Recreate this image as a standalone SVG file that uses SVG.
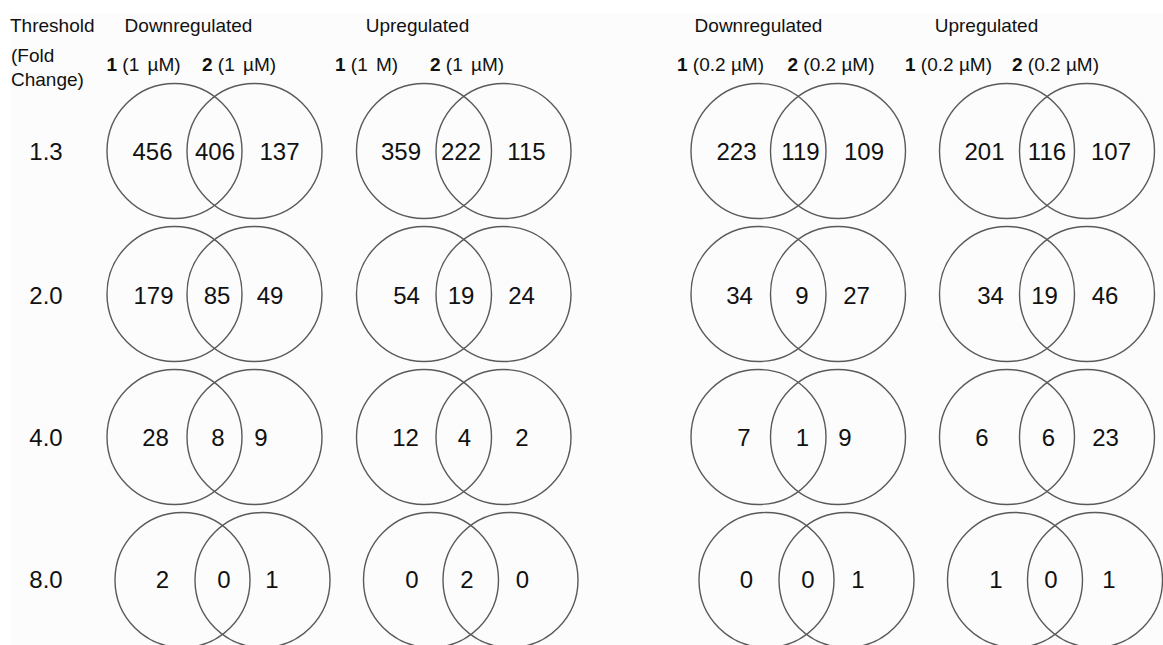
<svg xmlns="http://www.w3.org/2000/svg" width="1163" height="645" viewBox="0 0 1163 645">
<style>
.c{fill:none;stroke:#5a5a5a;stroke-width:1.4}
text{font-family:"Liberation Sans",Arial,sans-serif;fill:#111}
.n{font-size:24px;text-anchor:middle}
.h{font-size:19px}
.hm{font-size:19px;text-anchor:middle}
.b{font-weight:bold}
</style>
<rect x="0" y="0" width="1163" height="645" fill="#ffffff"/>
<rect x="10" y="13" width="1153" height="632" fill="#fcfcfc"/>
<g id="headers">
<text class="h" x="10" y="32">Threshold</text>
<text class="h" x="11" y="62">(Fold</text>
<text class="h" x="11" y="86">Change)</text>
<text class="hm" x="188.5" y="32">Downregulated</text>
<text class="hm" x="417.5" y="32">Upregulated</text>
<text class="hm" x="758.5" y="32">Downregulated</text>
<text class="hm" x="986.5" y="32">Upregulated</text>
<text class="h" x="106.5" y="71"><tspan class="b">1</tspan> (1 <tspan dx="3">µM)</tspan></text>
<text class="h" x="202" y="71"><tspan class="b">2</tspan> (1 <tspan dx="3">µM)</tspan></text>
<text class="h" x="335" y="71"><tspan class="b">1</tspan> (1 <tspan dx="3">M)</tspan></text>
<text class="h" x="430" y="71"><tspan class="b">2</tspan> (1 <tspan dx="3">µM)</tspan></text>
<text class="h" x="677" y="71"><tspan class="b">1</tspan> (0.2 µM)</text>
<text class="h" x="787.5" y="71"><tspan class="b">2</tspan> (0.2 µM)</text>
<text class="h" x="905" y="71"><tspan class="b">1</tspan> (0.2 µM)</text>
<text class="h" x="1012" y="71"><tspan class="b">2</tspan> (0.2 µM)</text>
</g>
<g id="thresholds">
<text class="n" x="46" y="160">1.3</text>
<text class="n" x="46" y="304">2.0</text>
<text class="n" x="46" y="446">4.0</text>
<text class="n" x="46" y="588">8.0</text>
</g>
<g id="down-1uM">
<g id="d1-r1"><circle class="c" cx="174.5" cy="151" r="67.5"/><circle class="c" cx="254.5" cy="151" r="67.5"/>
<text class="n" x="152.5" y="160">456</text><text class="n" x="215" y="160">406</text><text class="n" x="279.5" y="160">137</text></g>
<g id="d1-r2"><circle class="c" cx="174.5" cy="294" r="67.5"/><circle class="c" cx="254.5" cy="294" r="67.5"/>
<text class="n" x="153.5" y="303.5">179</text><text class="n" x="217" y="303.5">85</text><text class="n" x="270" y="303.5">49</text></g>
<g id="d1-r3"><circle class="c" cx="174.5" cy="437" r="67.5"/><circle class="c" cx="254.5" cy="437" r="67.5"/>
<text class="n" x="155.5" y="446">28</text><text class="n" x="218" y="446">8</text><text class="n" x="261" y="446">9</text></g>
<g id="d1-r4"><circle class="c" cx="182.5" cy="580" r="67.5"/><circle class="c" cx="262.5" cy="580" r="67.5"/>
<text class="n" x="162.5" y="588">2</text><text class="n" x="224" y="588">0</text><text class="n" x="272" y="588">1</text></g>
</g>
<g id="up-1uM">
<g id="u1-r1"><circle class="c" cx="424" cy="151" r="67.5"/><circle class="c" cx="503.5" cy="151" r="67.5"/>
<text class="n" x="401" y="160">359</text><text class="n" x="461" y="160">222</text><text class="n" x="526.5" y="160">115</text></g>
<g id="u1-r2"><circle class="c" cx="424" cy="294" r="67.5"/><circle class="c" cx="503.5" cy="294" r="67.5"/>
<text class="n" x="406.5" y="303.5">54</text><text class="n" x="461" y="303.5">19</text><text class="n" x="521.5" y="303.5">24</text></g>
<g id="u1-r3"><circle class="c" cx="424" cy="437" r="67.5"/><circle class="c" cx="503.5" cy="437" r="67.5"/>
<text class="n" x="405.5" y="446">12</text><text class="n" x="464.5" y="446">4</text><text class="n" x="522" y="446">2</text></g>
<g id="u1-r4"><circle class="c" cx="431" cy="580" r="67.5"/><circle class="c" cx="510.5" cy="580" r="67.5"/>
<text class="n" x="412" y="588">0</text><text class="n" x="467" y="588">2</text><text class="n" x="522.5" y="588">0</text></g>
</g>
<g id="down-02uM">
<g id="d2-r1"><circle class="c" cx="758.5" cy="151" r="67.5"/><circle class="c" cx="838" cy="151" r="67.5"/>
<text class="n" x="736.5" y="160">223</text><text class="n" x="800.5" y="160">119</text><text class="n" x="864" y="160">109</text></g>
<g id="d2-r2"><circle class="c" cx="758.5" cy="294" r="67.5"/><circle class="c" cx="838" cy="294" r="67.5"/>
<text class="n" x="739.5" y="303.5">34</text><text class="n" x="802" y="303.5">9</text><text class="n" x="856.5" y="303.5">27</text></g>
<g id="d2-r3"><circle class="c" cx="758.5" cy="437" r="67.5"/><circle class="c" cx="838" cy="437" r="67.5"/>
<text class="n" x="744" y="446">7</text><text class="n" x="802.5" y="446">1</text><text class="n" x="845" y="446">9</text></g>
<g id="d2-r4"><circle class="c" cx="766.5" cy="580" r="67.5"/><circle class="c" cx="846.5" cy="580" r="67.5"/>
<text class="n" x="746.5" y="588">0</text><text class="n" x="808" y="588">0</text><text class="n" x="858" y="588">1</text></g>
</g>
<g id="up-02uM">
<g id="u2-r1"><circle class="c" cx="1007" cy="151" r="67.5"/><circle class="c" cx="1087" cy="151" r="67.5"/>
<text class="n" x="984.5" y="160">201</text><text class="n" x="1047" y="160">116</text><text class="n" x="1111" y="160">107</text></g>
<g id="u2-r2"><circle class="c" cx="1007" cy="294" r="67.5"/><circle class="c" cx="1087" cy="294" r="67.5"/>
<text class="n" x="990.5" y="304">34</text><text class="n" x="1044.5" y="304">19</text><text class="n" x="1105" y="304">46</text></g>
<g id="u2-r3"><circle class="c" cx="1007" cy="437" r="67.5"/><circle class="c" cx="1087" cy="437" r="67.5"/>
<text class="n" x="982" y="446">6</text><text class="n" x="1048.5" y="446">6</text><text class="n" x="1105.5" y="446">23</text></g>
<g id="u2-r4"><circle class="c" cx="1015" cy="580" r="67.5"/><circle class="c" cx="1095" cy="580" r="67.5"/>
<text class="n" x="996" y="588">1</text><text class="n" x="1051" y="588">0</text><text class="n" x="1109" y="588">1</text></g>
</g>
<g id="connectors"/>
</svg>
